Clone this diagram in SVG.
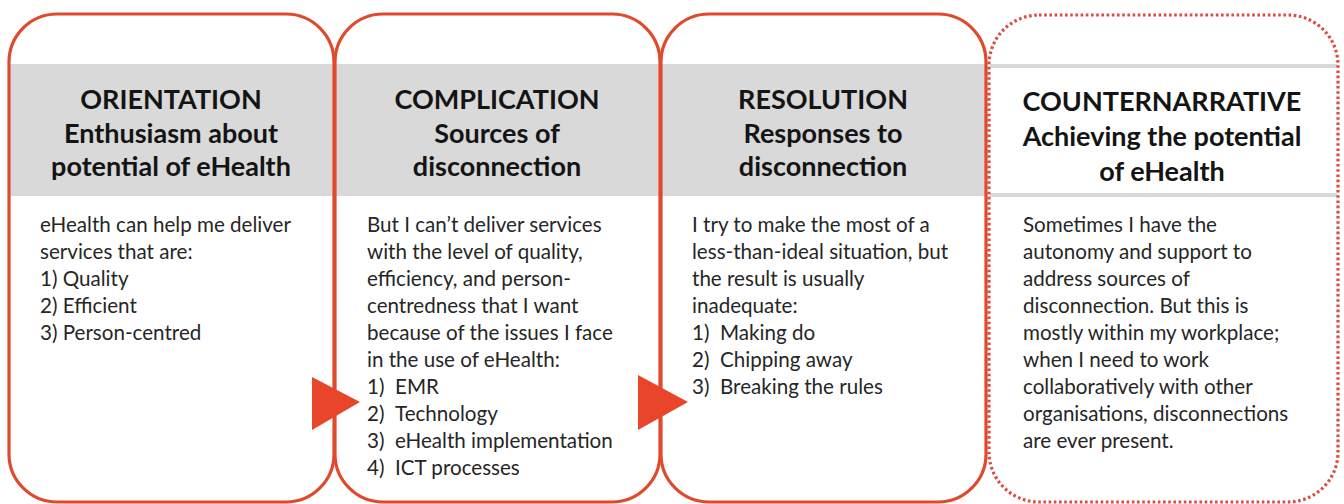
<svg xmlns="http://www.w3.org/2000/svg" width="1344" height="504" viewBox="0 0 1344 504">
<style>
.box{fill:none;stroke:#E04A2C;stroke-width:3.2}
.dot{fill:none;stroke:#DE4B3E;stroke-width:3.2;stroke-dasharray:2.6 2.6}
.t{font-family:Lato,"Open Sans",sans-serif;font-weight:bold;font-size:27px;fill:#141414;text-anchor:middle}
.b{font-family:Lato,"Open Sans",sans-serif;font-size:20.6px;fill:#262626}
.arr{fill:#E8452A}
</style>
<rect width="1344" height="504" fill="#ffffff"/>
<rect x="9" y="64" width="977" height="132" fill="#D9D9D9"/>
<g id="orientation">
<rect class="box" x="9" y="14" width="325" height="488" rx="48" ry="48"/>
<text class="t" x="171" y="109">ORIENTATION</text>
<text class="t" x="171" y="143">Enthusiasm about</text>
<text class="t" x="171" y="176">potential of eHealth</text>
<text class="b" x="40" y="232">eHealth can help me deliver</text>
<text class="b" x="40" y="259">services that are:</text>
<text class="b" x="40" y="286">1) Quality</text>
<text class="b" x="40" y="313">2) Efficient</text>
<text class="b" x="40" y="340">3) Person-centred</text>
</g>
<g id="complication">
<rect class="box" x="335" y="14" width="325" height="488" rx="48" ry="48"/>
<text class="t" x="497" y="109">COMPLICATION</text>
<text class="t" x="497" y="143">Sources of</text>
<text class="t" x="497" y="176">disconnection</text>
<text class="b" x="367" y="232">But I can’t deliver services</text>
<text class="b" x="367" y="259">with the level of quality,</text>
<text class="b" x="367" y="286">efficiency, and person-</text>
<text class="b" x="367" y="313">centredness that I want</text>
<text class="b" x="367" y="340">because of the issues I face</text>
<text class="b" x="367" y="367">in the use of eHealth:</text>
<text class="b" x="367" y="394">1)</text><text class="b" x="395" y="394">EMR</text>
<text class="b" x="367" y="421">2)</text><text class="b" x="395" y="421">Technology</text>
<text class="b" x="367" y="448">3)</text><text class="b" x="395" y="448">eHealth implementation</text>
<text class="b" x="367" y="475">4)</text><text class="b" x="395" y="475">ICT processes</text>
</g>
<g id="resolution">
<rect class="box" x="661" y="14" width="325" height="488" rx="48" ry="48"/>
<text class="t" x="823" y="109">RESOLUTION</text>
<text class="t" x="823" y="143">Responses to</text>
<text class="t" x="823" y="176">disconnection</text>
<text class="b" x="692" y="232">I try to make the most of a</text>
<text class="b" x="692" y="259">less-than-ideal situation, but</text>
<text class="b" x="692" y="286">the result is usually</text>
<text class="b" x="692" y="313">inadequate:</text>
<text class="b" x="692" y="340">1)</text><text class="b" x="720" y="340">Making do</text>
<text class="b" x="692" y="367">2)</text><text class="b" x="720" y="367">Chipping away</text>
<text class="b" x="692" y="394">3)</text><text class="b" x="720" y="394">Breaking the rules</text>
</g>
<g id="counternarrative">
<rect x="990" y="64" width="347" height="4" fill="#D9D9D9"/>
<rect x="990" y="193" width="347" height="4" fill="#D9D9D9"/>
<rect class="dot" x="989" y="15" width="349" height="487" rx="50" ry="50"/>
<text class="t" x="1162" y="111">COUNTERNARRATIVE</text>
<text class="t" x="1162" y="146">Achieving the potential</text>
<text class="t" x="1162" y="181">of eHealth</text>
<text class="b" x="1023" y="232">Sometimes I have the</text>
<text class="b" x="1023" y="259">autonomy and support to</text>
<text class="b" x="1023" y="286">address sources of</text>
<text class="b" x="1023" y="313">disconnection. But this is</text>
<text class="b" x="1023" y="340">mostly within my workplace;</text>
<text class="b" x="1023" y="367">when I need to work</text>
<text class="b" x="1023" y="394">collaboratively with other</text>
<text class="b" x="1023" y="421">organisations, disconnections</text>
<text class="b" x="1023" y="448">are ever present.</text>
</g>
<g id="connectors">
<polygon class="arr" points="312,377 312,430 360,402"/>
<polygon class="arr" points="638,375 638,430 688,402"/>
</g>
</svg>
